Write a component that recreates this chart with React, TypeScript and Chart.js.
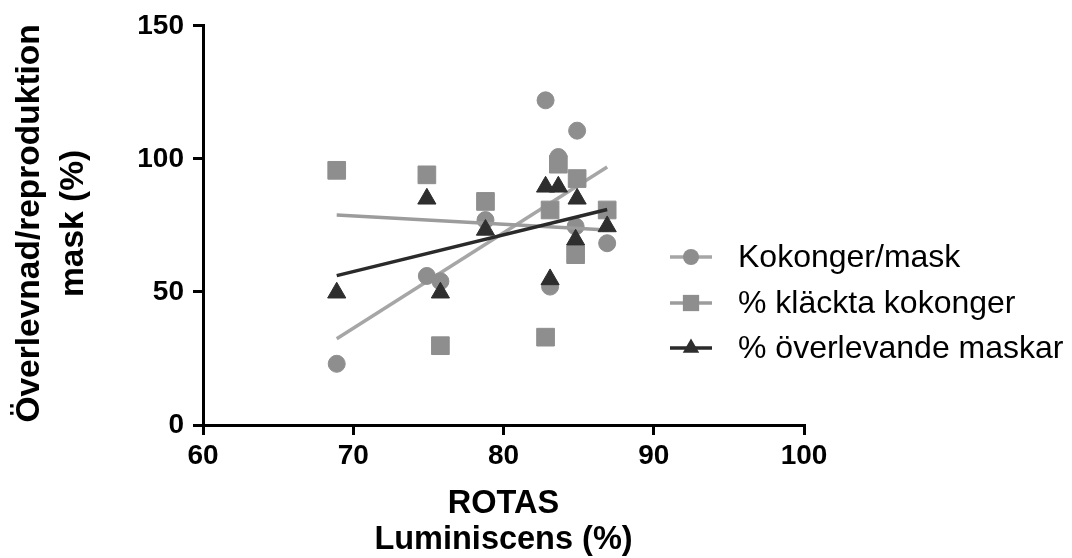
import { useEffect, useRef } from 'react';
import { Chart, registerables } from 'chart.js';

Chart.register(...registerables);

const FONT = '"Liberation Sans", Arial, Helvetica, sans-serif';

// Data
const xValues = [68.9, 74.9, 75.8, 78.8, 82.8, 83.1, 83.65, 84.8, 84.9, 86.9];
const kokongerPerMask = [23, 56, 54, 77, 122, 52, 100.7, 74.6, 110.6, 68.3];
const klacktaKokonger = [95.7, 94, 29.8, 84, 33, 80.8, 98, 64, 92.6, 80.8];
const overlevandeMaskar = [49.7, 85, 49.7, 73.3, 89.5, 54.7, 89.5, 69.6, 85, 74.6];

const seriesNames = ['Kokonger/mask', '% kläckta kokonger', '% överlevande maskar'];
const xTicks = [60, 70, 80, 90, 100];
const yTicks = [0, 50, 100, 150];
const xTitle = ['ROTAS', 'Luminiscens (%)'];
const yTitle = ['Överlevnad/reproduktion', 'mask (%)'];

const markerColors = ['#8e8e8e', '#8e8e8e', '#2e2e2e'];
const lineColors = ['#a6a6a6', '#9c9c9c', '#2a2a2a'];
const pointStyles = ['circle', 'rect', 'triangle'] as const;
const pointRadii = [8.5, 12.5, 10.5];

function fitLine(xs: number[], ys: number[]) {
  const n = xs.length;
  const mx = xs.reduce((a, b) => a + b, 0) / n;
  const my = ys.reduce((a, b) => a + b, 0) / n;
  let sxy = 0;
  let sxx = 0;
  for (let i = 0; i < n; i++) {
    sxy += (xs[i] - mx) * (ys[i] - my);
    sxx += (xs[i] - mx) * (xs[i] - mx);
  }
  const slope = sxy / sxx;
  const x0 = Math.min(...xs);
  const x1 = Math.max(...xs);
  return [
    { x: x0, y: my + slope * (x0 - mx) },
    { x: x1, y: my + slope * (x1 - mx) },
  ];
}

const allSeries = [kokongerPerMask, klacktaKokonger, overlevandeMaskar];

const overlayPlugin = {
  id: 'overlay',
  afterDraw(chart: any) {
    const ctx = chart.ctx as CanvasRenderingContext2D;
    const area = chart.chartArea;
    ctx.save();
    ctx.fillStyle = '#000';
    // X title
    ctx.font = `bold 32.5px ${FONT}`;
    ctx.textAlign = 'center';
    ctx.textBaseline = 'middle';
    const cx = (area.left + area.right) / 2;
    ctx.fillText(xTitle[0], cx, 504);
    ctx.fillText(xTitle[1], cx, 540);
    // Y title
    const cy = (area.top + area.bottom) / 2 - 2;
    ctx.font = `bold 33.5px ${FONT}`;
    ctx.save();
    ctx.translate(30, cy);
    ctx.rotate(-Math.PI / 2);
    ctx.fillText(yTitle[0], 0, 0);
    ctx.restore();
    ctx.save();
    ctx.translate(74, cy);
    ctx.rotate(-Math.PI / 2);
    ctx.fillText(yTitle[1], 0, 0);
    ctx.restore();
    // Legend
    const rows = [257, 303, 348];
    const legendRadii = [8, 11.5, 9.5];
    for (let i = 0; i < 3; i++) {
      const y = rows[i];
      ctx.strokeStyle = lineColors[i];
      ctx.lineWidth = 3.5;
      ctx.beginPath();
      ctx.moveTo(670, y);
      ctx.lineTo(712, y);
      ctx.stroke();
      ctx.fillStyle = markerColors[i];
      const r = legendRadii[i];
      ctx.beginPath();
      if (i === 0) ctx.arc(691, y, r, 0, Math.PI * 2);
      else if (i === 1) ctx.rect(691 - r * 0.707, y - r * 0.707, r * 1.414, r * 1.414);
      else {
        ctx.moveTo(691, y - r);
        ctx.lineTo(691 + r * 0.866, y + r / 2);
        ctx.lineTo(691 - r * 0.866, y + r / 2);
        ctx.closePath();
      }
      ctx.fill();
      ctx.fillStyle = '#000';
      ctx.font = `32px ${FONT}`;
      ctx.textAlign = 'left';
      ctx.textBaseline = 'middle';
      ctx.fillText(seriesNames[i], 738, y + 1);
    }
    ctx.restore();
  },
};

export default function App() {
  const ref = useRef<HTMLCanvasElement | null>(null);

  useEffect(() => {
    if (!ref.current) return;
    const scatterSets = allSeries.map((ys, i) => ({
      label: seriesNames[i],
      data: xValues.map((x, j) => ({ x, y: ys[j] })),
      pointStyle: pointStyles[i],
      pointRadius: pointRadii[i],
      pointBackgroundColor: markerColors[i],
      pointBorderColor: markerColors[i],
      pointBorderWidth: 1,
      showLine: false,
      order: [5, 3, 1][i],
    }));
    const lineSets = allSeries.map((ys, i) => ({
      label: seriesNames[i] + ' fit',
      data: fitLine(xValues, ys),
      showLine: true,
      borderColor: lineColors[i],
      borderWidth: 3.5,
      pointRadius: 0,
      fill: false,
      order: [6, 4, 2][i],
    }));
    const tickFont = { family: FONT, size: 28, weight: 'bold' as const };
    const chart = new Chart(ref.current, {
      type: 'scatter',
      data: { datasets: [...scatterSets, ...lineSets] as any },
      options: {
        animation: false,
        responsive: false,
        maintainAspectRatio: false,
        layout: { padding: { left: 0, top: 23, right: 268, bottom: 0 } },
        plugins: { legend: { display: false }, tooltip: { enabled: false } },
        scales: {
          x: {
            type: 'linear',
            min: xTicks[0],
            max: xTicks[xTicks.length - 1],
            afterBuildTicks: (s: any) => {
              s.ticks = xTicks.map((v) => ({ value: v }));
            },
            ticks: { color: '#000', font: tickFont, padding: 4, maxRotation: 0 },
            grid: { drawOnChartArea: false, drawTicks: true, tickLength: 10, color: '#000', lineWidth: 3 },
            border: { display: true, color: '#000', width: 3 },
            afterFit: (s: any) => {
              s.height = 133;
            },
          },
          y: {
            type: 'linear',
            min: yTicks[0],
            max: yTicks[yTicks.length - 1],
            afterBuildTicks: (s: any) => {
              s.ticks = yTicks.map((v) => ({ value: v }));
            },
            ticks: { color: '#000', font: tickFont, padding: 9 },
            grid: { drawOnChartArea: false, drawTicks: true, tickLength: 10, color: '#000', lineWidth: 3 },
            border: { display: true, color: '#000', width: 3 },
            afterFit: (s: any) => {
              s.width = 203;
            },
          },
        },
      },
      plugins: [overlayPlugin],
    });
    return () => chart.destroy();
  }, []);

  return (
    <div style={{ position: 'absolute', left: 0, top: 0, width: 1072, height: 558, background: '#fff' }}>
      <canvas ref={ref} width={1072} height={558} style={{ width: 1072, height: 558 }} />
    </div>
  );
}
